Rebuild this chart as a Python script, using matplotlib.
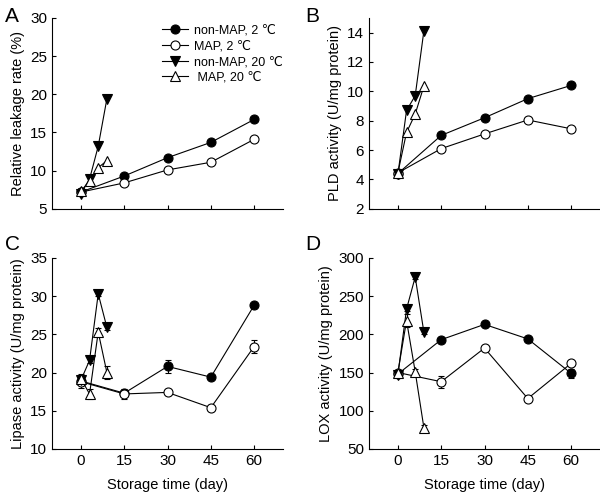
import matplotlib
matplotlib.use("Agg")
import matplotlib.pyplot as plt

plt.rcParams["font.family"] = ["Liberation Sans", "DejaVu Sans"]
plt.rcParams["font.size"] = 10

# storage days
days_2c = [0, 15, 30, 45, 60]
days_20c = [0, 3, 6, 9]

series_labels = ["non-MAP, 2 \u2103", "MAP, 2 \u2103", "non-MAP, 20 \u2103", " MAP, 20 \u2103"]

# A: relative leakage rate (%)
leak_nonmap_2 = [7.2, 9.3, 11.7, 13.7, 16.7]
leak_map_2 = [7.2, 8.4, 10.1, 11.1, 14.1]
leak_nonmap_20 = [7.0, 8.9, 13.2, 19.4]
leak_map_20 = [7.3, 8.7, 10.4, 11.3]

# B: PLD activity
pld_nonmap_2 = [4.4, 7.0, 8.2, 9.5, 10.4]
pld_map_2 = [4.45, 6.1, 7.1, 8.05, 7.45]
pld_nonmap_20 = [4.35, 8.7, 9.7, 14.1]
pld_map_20 = [4.45, 7.2, 8.45, 10.35]

# C: lipase activity
lip_nonmap_2 = [18.9, 17.3, 20.8, 19.4, 28.8]
lip_map_2 = [18.8, 17.2, 17.4, 15.4, 23.4]
lip_nonmap_20 = [19.0, 21.6, 30.3, 25.9]
lip_map_20 = [19.2, 17.2, 25.3, 20.0]
lip_err_nonmap_2 = [0.4, 0.3, 0.9, 0.3, 0.3]
lip_err_map_2 = [0.8, 0.6, 0.3, 0.3, 0.9]
lip_err_nonmap_20 = [0.4, 0.4, 0.3, 0.3]
lip_err_map_20 = [0.6, 0.7, 0.5, 0.8]

# D: LOX activity
lox_nonmap_2 = [148, 193, 213, 194, 149]
lox_map_2 = [150, 138, 182, 116, 162]
lox_nonmap_20 = [147, 233, 275, 203]
lox_map_20 = [150, 218, 151, 78]
lox_err_nonmap_2 = [3, 3, 3, 3, 6]
lox_err_map_2 = [3, 8, 3, 3, 3]
lox_err_nonmap_20 = [3, 3, 3, 3]
lox_err_map_20 = [3, 9, 3, 3]

styles = [
    dict(marker="o", mfc="black"),
    dict(marker="o", mfc="white"),
    dict(marker="v", mfc="black"),
    dict(marker="^", mfc="white"),
]

fig = plt.figure(figsize=(6, 4.95), dpi=100)
axA = fig.add_axes([0.0867, 0.578, 0.385, 0.386])
axB = fig.add_axes([0.6150, 0.578, 0.385, 0.386])
axC = fig.add_axes([0.0867, 0.093, 0.385, 0.386])
axD = fig.add_axes([0.6150, 0.093, 0.385, 0.386])


def draw(ax, ys, errs=None):
    xs = [days_2c, days_2c, days_20c, days_20c]
    for i, (x, y, st, lab) in enumerate(zip(xs, ys, styles, series_labels)):
        e = errs[i] if errs is not None else None
        ax.errorbar(x, y, yerr=e, color="black", lw=0.8, ms=6.5, mec="black",
                    mew=0.8, capsize=2.5, elinewidth=0.8, label=lab, zorder=3 + i, **st)
    ax.spines["top"].set_visible(False)
    ax.spines["right"].set_visible(False)
    ax.set_xlim(-10, 70)
    ax.set_xticks([0, 15, 30, 45, 60])
    ax.tick_params(direction="in", length=3, labelsize=11)


draw(axA, [leak_nonmap_2, leak_map_2, leak_nonmap_20, leak_map_20])
axA.set_ylim(5, 30)
axA.set_yticks([5, 10, 15, 20, 25, 30])
axA.set_xticklabels([])
axA.set_ylabel("Relative leakage rate (%)", fontsize=10.5)
axA.legend(loc="upper left", bbox_to_anchor=(0.475, 0.965), frameon=False,
           fontsize=9, handlelength=2.1, labelspacing=0.3, handletextpad=0.5,
           borderpad=0, borderaxespad=0)

draw(axB, [pld_nonmap_2, pld_map_2, pld_nonmap_20, pld_map_20])
axB.set_ylim(2, 15)
axB.set_yticks([2, 4, 6, 8, 10, 12, 14])
axB.set_xticklabels([])
axB.set_ylabel("PLD activity (U/mg protein)", fontsize=10.5)

draw(axC, [lip_nonmap_2, lip_map_2, lip_nonmap_20, lip_map_20],
     [lip_err_nonmap_2, lip_err_map_2, lip_err_nonmap_20, lip_err_map_20])
axC.set_ylim(10, 35)
axC.set_yticks([10, 15, 20, 25, 30, 35])
axC.set_ylabel("Lipase activity (U/mg protein)", fontsize=10.5)
axC.set_xlabel("Storage time (day)", fontsize=10.5, labelpad=7)

draw(axD, [lox_nonmap_2, lox_map_2, lox_nonmap_20, lox_map_20],
     [lox_err_nonmap_2, lox_err_map_2, lox_err_nonmap_20, lox_err_map_20])
axD.set_ylim(50, 300)
axD.set_yticks([50, 100, 150, 200, 250, 300])
axD.set_ylabel("LOX activity (U/mg protein)", fontsize=10.5)
axD.set_xlabel("Storage time (day)", fontsize=10.5, labelpad=7)

for letter, (x, y) in zip("ABCD", [(0.008, 0.985), (0.508, 0.985), (0.008, 0.525), (0.508, 0.525)]):
    fig.text(x, y, letter, fontsize=15, va="top", ha="left")

fig.savefig("out.png", dpi=100)
